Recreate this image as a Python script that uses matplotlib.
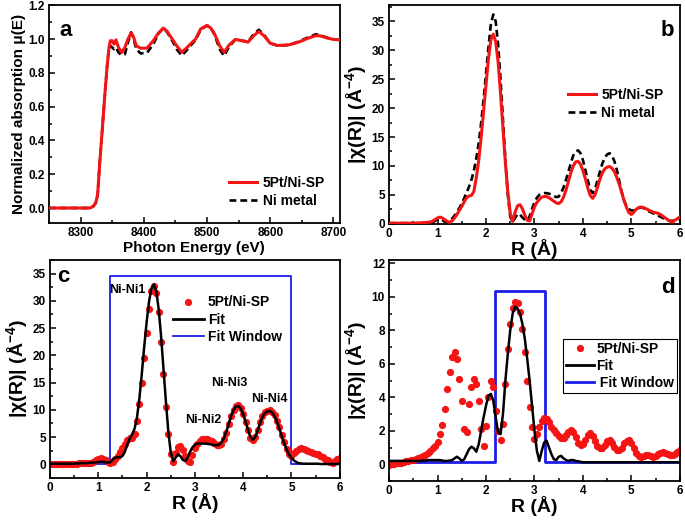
import numpy as np
import matplotlib
matplotlib.use("Agg")
import matplotlib.pyplot as plt
from matplotlib.ticker import MultipleLocator, FormatStrFormatter
from matplotlib.lines import Line2D

plt.rcParams['font.family'] = ['Liberation Sans', 'DejaVu Sans']
plt.rcParams['font.weight'] = 'bold'
plt.rcParams['mathtext.fontset'] = 'custom'
plt.rcParams['mathtext.rm'] = 'Liberation Sans:bold'
plt.rcParams['mathtext.default'] = 'rm'

RED = '#f41414'
BLUE = '#1c1ce6'

# ---- panel a : XANES ----
energy = [8250, 8300, 8315, 8320, 8324, 8327, 8330, 8333, 8336, 8339, 8342, 8345,
          8347, 8350, 8353, 8356, 8360, 8365, 8370, 8375, 8380, 8384, 8388, 8395,
          8405, 8415, 8423, 8431, 8437, 8445, 8452, 8460, 8467, 8475, 8482, 8490,
          8500, 8506, 8512, 8520, 8527, 8535, 8545, 8555, 8565, 8574, 8582, 8590,
          8600, 8612, 8630, 8645, 8660, 8672, 8680, 8690, 8700, 8710]
mu_sample = [0.0, 0.0, 0.0, 0.01, 0.03, 0.08, 0.25, 0.40, 0.55, 0.70, 0.84, 0.95,
             0.99, 0.99, 0.97, 0.995, 0.95, 0.92, 0.95, 1.0, 1.037, 1.01, 0.96, 0.946,
             0.946, 0.99, 1.035, 1.065, 1.045, 1.0, 0.96, 0.922, 0.945, 0.975, 1.0, 1.06,
             1.081, 1.065, 1.03, 0.96, 0.922, 0.965, 0.998, 0.99, 0.982, 1.02, 1.045, 1.02,
             0.975, 0.962, 0.966, 0.982, 1.005, 1.02, 1.018, 1.006, 0.998, 0.995]
mu_ni = [0.0, 0.0, 0.0, 0.01, 0.03, 0.08, 0.25, 0.40, 0.55, 0.70, 0.84, 0.95,
         0.96, 0.95, 0.94, 0.95, 0.92, 0.905, 0.91, 0.98, 1.04, 1.0, 0.94, 0.915,
         0.918, 0.97, 1.03, 1.065, 1.04, 0.99, 0.94, 0.902, 0.93, 0.965, 0.995, 1.055,
         1.08, 1.065, 1.025, 0.94, 0.90, 0.955, 0.998, 0.99, 0.985, 1.03, 1.055, 1.025,
         0.975, 0.96, 0.965, 0.985, 1.01, 1.028, 1.022, 1.008, 0.998, 0.995]

# ---- R grid used by panels b, c, d (step 0.05 A) ----
r = np.round(np.arange(0, 6.001, 0.05), 2)

ft_sample = [0.1, 0.1, 0.1, 0.1, 0.1, 0.1, 0.1, 0.1, 0.1, 0.1, 0.1, 0.1,
             0.15, 0.15, 0.2, 0.2, 0.25, 0.3, 0.45, 0.75, 1.0, 1.15, 1.0, 0.7,
             0.4, 0.25, 0.5, 1.0, 1.6, 2.3, 3.0, 3.8, 4.5, 4.8, 4.9, 5.6,
             8.0, 11.0, 15.0, 19.5, 24.0, 28.5, 31.8, 32.8, 31.5, 28.0, 22.5, 16.5,
             10.5, 5.5, 1.8, 0.4, 2.0, 3.1, 3.3, 2.6, 1.5, 0.6, 0.5, 1.7,
             2.9, 3.7, 4.2, 4.6, 4.7, 4.7, 4.5, 4.2, 3.9, 3.6, 3.5, 3.8,
             4.6, 5.8, 7.3, 8.8, 10.0, 10.7, 10.8, 10.3, 9.2, 7.8, 6.2, 4.9,
             4.4, 5.0, 6.3, 7.7, 8.8, 9.5, 9.8, 9.9, 9.6, 9.0, 8.0, 6.8,
             5.4, 4.0, 2.8, 1.9, 1.6, 2.0, 2.5, 2.8, 2.9, 2.8, 2.6, 2.4,
             2.2, 2.0, 1.9, 1.8, 1.6, 1.3, 1.0, 0.7, 0.4, 0.3, 0.6, 0.9, 1.2]
ft_ni = [0.1, 0.1, 0.1, 0.1, 0.1, 0.1, 0.1, 0.1, 0.1, 0.1, 0.1, 0.1,
         0.1, 0.1, 0.1, 0.1, 0.1, 0.15, 0.25, 0.5, 0.75, 0.8, 0.6, 0.35,
         0.3, 0.5, 0.9, 1.4, 2.0, 2.7, 3.5, 4.4, 5.4, 6.4, 7.6, 9.2,
         11.3, 14.0, 17.5, 21.5, 26.0, 30.5, 34.5, 36.2, 35.0, 31.0, 25.0, 18.0,
         11.0, 5.0, 1.2, 0.3, 1.0, 1.7, 1.6, 1.1, 0.7, 0.5, 1.3, 2.6,
         3.7, 4.5, 5.0, 5.2, 5.3, 5.3, 5.2, 5.0, 4.8, 4.6, 4.7, 5.3,
         6.3, 7.6, 9.0, 10.5, 11.8, 12.5, 12.7, 12.2, 11.0, 9.3, 7.5, 5.9,
         5.3, 6.0, 7.5, 9.0, 10.4, 11.4, 12.0, 12.2, 11.8, 10.8, 9.3, 7.4,
         5.5, 4.0, 3.0, 2.5, 2.3, 2.3, 2.5, 2.7, 2.8, 2.7, 2.5, 2.2,
         2.0, 1.8, 1.6, 1.4, 1.2, 1.0, 0.8, 0.6, 0.5, 0.5, 0.6, 0.7, 0.8]

# ---- panel c : fit of first shells ----
fit_c = [0.1, 0.1, 0.1, 0.1, 0.1, 0.1, 0.1, 0.1, 0.1, 0.1, 0.1, 0.15,
         0.15, 0.2, 0.2, 0.2, 0.25, 0.3, 0.3, 0.35, 0.4, 0.45, 0.45, 0.35,
         0.3, 0.4, 0.9, 1.2, 1.3, 1.3, 1.5, 2.3, 3.6, 4.7, 5.5, 6.5,
         8.5, 12.0, 16.5, 21.5, 26.0, 29.8, 32.3, 33.0, 31.8, 28.5, 23.5, 17.5,
         11.5, 6.0, 2.2, 0.6, 1.2, 1.8, 1.5, 0.8, 0.6, 1.2, 2.3, 3.1,
         3.6, 3.8, 3.8, 3.8, 3.8, 3.75, 3.7, 3.6, 3.5, 3.5, 3.6, 4.0,
         4.8, 6.0, 7.4, 8.9, 10.0, 10.6, 10.7, 10.2, 9.2, 7.8, 6.3, 5.0,
         4.5, 5.0, 6.2, 7.6, 8.7, 9.4, 9.7, 9.8, 9.5, 8.8, 7.8, 6.5,
         5.1, 3.8, 2.7, 1.8, 1.2, 0.7, 0.4, 0.2, 0.15, 0.1, 0.1, 0.1,
         0.1, 0.1, 0.1, 0.1, 0.05, 0.05, 0.05, 0.05, 0.05, 0.05, 0.05, 0.05, 0.05]
win_c_r = [0, 1.25, 1.25, 5.0, 5.0, 6.0]
win_c_y = [0, 0, 34.5, 34.5, 0, 0]
peak_labels = ['Ni-Ni1', 'Ni-Ni2', 'Ni-Ni3', 'Ni-Ni4']
peak_pos = [(1.61, 31.9), (3.17, 8.1), (3.72, 15.0), (4.55, 12.0)]

# ---- panel d ----
ft_d = [-0.05, 0.0, 0.0, 0.05, 0.05, 0.1, 0.15, 0.2, 0.2, 0.25, 0.25, 0.3,
        0.35, 0.45, 0.5, 0.55, 0.65, 0.8, 0.95, 1.1, 1.35, 1.8, 2.35, 3.3,
        4.5, 5.5, 6.4, 6.7, 6.3, 5.1, 3.8, 2.1, 1.9, 3.6, 4.6, 5.1,
        4.8, 3.8, 2.1, 1.1, 2.3, 4.0, 5.0, 4.6, 3.2, 2.0, 1.45, 2.4,
        4.8, 6.9, 8.4, 9.3, 9.7, 9.6, 9.1, 8.1, 6.7, 5.0, 3.4, 2.2,
        1.5, 1.8, 2.2, 2.6, 2.75, 2.7, 2.5, 2.25, 2.05, 1.85, 1.7, 1.55,
        1.55, 1.75, 1.95, 2.05, 1.95, 1.6, 1.3, 1.15, 1.2, 1.45, 1.75, 1.85,
        1.7, 1.4, 1.1, 0.95, 0.95, 1.15, 1.4, 1.45, 1.3, 1.05, 0.85, 0.85,
        1.0, 1.25, 1.4, 1.45, 1.3, 1.0, 0.7, 0.5, 0.45, 0.5, 0.55, 0.55,
        0.5, 0.45, 0.5, 0.6, 0.7, 0.75, 0.7, 0.6, 0.55, 0.55, 0.6, 0.75, 0.85]
fit_d = [0.2, 0.2, 0.2, 0.2, 0.2, 0.2, 0.2, 0.2, 0.2, 0.2, 0.2, 0.2,
         0.2, 0.2, 0.22, 0.22, 0.25, 0.25, 0.25, 0.25, 0.25, 0.25, 0.22, 0.2,
         0.2, 0.22, 0.25, 0.35, 0.45, 0.35, 0.2, 0.3, 0.6, 0.9, 1.05, 0.95,
         0.75, 1.2, 2.0, 2.8, 3.5, 4.1, 4.2, 3.8, 2.8, 1.9, 1.8, 3.0,
         5.0, 6.6, 8.0, 9.0, 9.4, 9.3, 9.0, 8.4, 7.5, 6.3, 5.0, 3.5,
         2.0, 0.8, 0.2, 0.8, 1.3, 1.4, 1.0, 0.6, 0.3, 0.25, 0.45, 0.5,
         0.35, 0.26, 0.2, 0.25, 0.25, 0.2, 0.18, 0.15, 0.12, 0.12, 0.12, 0.12,
         0.12, 0.12, 0.12, 0.12, 0.12, 0.12, 0.12, 0.12, 0.12, 0.12, 0.12, 0.12,
         0.12, 0.12, 0.12, 0.12, 0.12, 0.12, 0.12, 0.12, 0.12, 0.12, 0.12, 0.12,
         0.12, 0.12, 0.12, 0.12, 0.12, 0.12, 0.12, 0.12, 0.12, 0.12, 0.12, 0.12, 0.12]
win_d_r = [0, 2.19, 2.19, 3.22, 3.22, 6.0]
win_d_y = [0.12, 0.12, 10.35, 10.35, 0.12, 0.12]

chi_label = '|\u03c7(R)| (\u00c5$^{-4}$)'


def style(ax, xmaj, xmin, ymaj, ymin):
    ax.xaxis.set_major_locator(MultipleLocator(xmaj))
    ax.xaxis.set_minor_locator(MultipleLocator(xmin))
    ax.yaxis.set_major_locator(MultipleLocator(ymaj))
    ax.yaxis.set_minor_locator(MultipleLocator(ymin))
    ax.tick_params(which='both', direction='in', top=False, right=False,
                   labelsize=8.5, pad=3, width=1.1)
    ax.tick_params(which='major', length=4)
    ax.tick_params(which='minor', length=2)
    for s in ax.spines.values():
        s.set_linewidth(1.3)
    for lab in ax.get_xticklabels() + ax.get_yticklabels():
        lab.set_fontweight('bold')


fig = plt.figure(figsize=(6.85, 5.24), dpi=100)
axa = fig.add_axes([0.0715, 0.574, 0.4245, 0.416])
axb = fig.add_axes([0.568, 0.573, 0.4245, 0.417])
axc = fig.add_axes([0.073, 0.088, 0.423, 0.416])
axd = fig.add_axes([0.568, 0.082, 0.4245, 0.422])

dash = (2.6, 1.5)

# a
axa.plot(energy, mu_ni, color='black', lw=1.9, dashes=dash, zorder=2)
axa.plot(energy, mu_sample, color=RED, lw=2.2, zorder=3)
axa.set_xlim(8250, 8710)
axa.set_ylim(-0.09, 1.2)
style(axa, 100, 50, 0.2, 0.1)
axa.yaxis.set_major_formatter(FormatStrFormatter('%.1f'))
axa.set_xlabel('Photon Energy (eV)', fontsize=11, fontweight='bold', labelpad=1)
axa.set_ylabel('Normalized absorption \u03bc(E)', fontsize=11, fontweight='bold', labelpad=2)
h = [Line2D([], [], color=RED, lw=2.2), Line2D([], [], color='black', lw=1.9, dashes=dash)]
axa.legend(h, ['5Pt/Ni-SP', 'Ni metal'], loc='center left', bbox_to_anchor=(0.62, 0.145),
           frameon=False, fontsize=10, handlelength=2.0, handletextpad=0.4,
           labelspacing=0.3, borderaxespad=0, borderpad=0)
axa.text(0.035, 0.86, 'a', transform=axa.transAxes, fontsize=16, fontweight='bold')

# b
axb.plot(r, ft_ni, color='black', lw=1.9, dashes=dash, zorder=2)
axb.plot(r, ft_sample, color=RED, lw=2.2, zorder=3)
axb.set_xlim(0, 6)
axb.set_ylim(0, 37.8)
style(axb, 1, 0.5, 5, 2.5)
axb.set_xlabel('R (\u00c5)', fontsize=14, fontweight='bold', labelpad=-1)
axb.set_ylabel(chi_label, fontsize=14, fontweight='bold', labelpad=2)
axb.legend(h, ['5Pt/Ni-SP', 'Ni metal'], loc='center left', bbox_to_anchor=(0.615, 0.548),
           frameon=False, fontsize=10, handlelength=2.0, handletextpad=0.4,
           labelspacing=0.3, borderaxespad=0, borderpad=0)
axb.text(0.935, 0.86, 'b', transform=axb.transAxes, fontsize=16, fontweight='bold')

# c
axc.plot(win_c_r, win_c_y, color=BLUE, lw=1.3, zorder=1)
axc.plot(r, ft_sample, 'o', color=RED, ms=5.2, mew=0, zorder=2)
axc.plot(r, fit_c, color='black', lw=1.8, zorder=3)
axc.set_xlim(0, 6)
axc.set_ylim(-2.5, 37.5)
style(axc, 1, 0.5, 5, 2.5)
axc.set_xlabel('R (\u00c5)', fontsize=14, fontweight='bold', labelpad=-1)
axc.set_ylabel(chi_label, fontsize=14, fontweight='bold', labelpad=2)
for lab, (px, py) in zip(peak_labels, peak_pos):
    axc.text(px, py, lab, fontsize=9, fontweight='bold', ha='center', va='center')
hc = [Line2D([], [], color=RED, marker='o', ms=5.2, mew=0, ls='none'),
      Line2D([], [], color='black', lw=2.0),
      Line2D([], [], color=BLUE, lw=1.3)]
axc.legend(hc, ['5Pt/Ni-SP', 'Fit', 'Fit Window'], loc='center left',
           bbox_to_anchor=(0.425, 0.725), frameon=False, fontsize=10,
           handlelength=2.2, handletextpad=0.3, labelspacing=0.25,
           borderaxespad=0, borderpad=0, numpoints=1)
axc.text(0.025, 0.9, 'c', transform=axc.transAxes, fontsize=16, fontweight='bold')

# d
axd.plot(win_d_r, win_d_y, color=BLUE, lw=2.0, zorder=1)
axd.plot(r, ft_d, 'o', color=RED, ms=5.2, mew=0, zorder=2)
axd.plot(r, fit_d, color='black', lw=1.8, zorder=3)
axd.set_xlim(0, 6)
axd.set_ylim(-1, 12.2)
style(axd, 1, 0.5, 2, 1)
axd.set_xlabel('R (\u00c5)', fontsize=14, fontweight='bold', labelpad=-1)
axd.set_ylabel(chi_label, fontsize=14, fontweight='bold', labelpad=2)
hd = [Line2D([], [], color=RED, marker='o', ms=5.2, mew=0, ls='none'),
      Line2D([], [], color='black', lw=2.0),
      Line2D([], [], color=BLUE, lw=2.0)]
leg = axd.legend(hd, ['5Pt/Ni-SP', 'Fit', ' Fit Window'], loc='center left',
                 bbox_to_anchor=(0.598, 0.52), frameon=True, fancybox=False,
                 edgecolor='black', framealpha=1, fontsize=10, handlelength=2.0,
                 handletextpad=0.2, labelspacing=0.2, borderaxespad=0,
                 borderpad=0.2, numpoints=1)
leg.get_frame().set_linewidth(0.8)
axd.text(0.935, 0.85, 'd', transform=axd.transAxes, fontsize=16, fontweight='bold')

fig.savefig('out.png', dpi=100)
